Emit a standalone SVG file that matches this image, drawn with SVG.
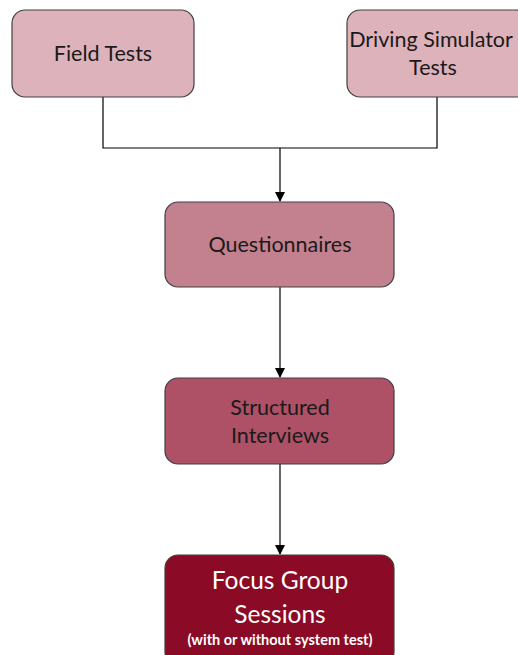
<svg xmlns="http://www.w3.org/2000/svg" width="518" height="655" viewBox="0 0 518 655">
<style>
.box{stroke:#404040;stroke-width:1.2}
.t{font-family:Lato,"Open Sans","Liberation Sans",sans-serif;font-size:21.5px;fill:#1a1a1a;text-anchor:middle}
.w{fill:#ffffff}
.c{fill:none;stroke:#000;stroke-width:1.2}
</style>
<defs>
<marker id="ah" markerWidth="10" markerHeight="10" refX="9" refY="5" orient="auto" markerUnits="userSpaceOnUse">
<path d="M0,0 L10,5 L0,10 z" fill="#000"/>
</marker>
</defs>
<rect width="518" height="655" fill="#ffffff"/>
<g id="connectors">
<path class="c" d="M103,97 V148 H437 V97"/>
<path class="c" d="M280,148 V201" marker-end="url(#ah)"/>
<path class="c" d="M280,287 V377" marker-end="url(#ah)"/>
<path class="c" d="M280,464 V554" marker-end="url(#ah)"/>
</g>
<g id="field-tests">
<rect class="box" x="12" y="10" width="182" height="87" rx="13" fill="#DDB2BB"/>
<text class="t" x="103" y="61">Field Tests</text>
</g>
<g id="driving-simulator-tests">
<rect class="box" x="347" y="10" width="182" height="87" rx="13" fill="#DDB2BB"/>
<text class="t" x="431" y="47">Driving Simulator</text>
<text class="t" x="433" y="75">Tests</text>
</g>
<g id="questionnaires">
<rect class="box" x="165" y="202" width="229" height="85" rx="13" fill="#C3808F"/>
<text class="t" x="280" y="252">Questionnaires</text>
</g>
<g id="structured-interviews">
<rect class="box" x="165" y="378" width="229" height="86" rx="13" fill="#AE5066"/>
<text class="t" x="280" y="415">Structured</text>
<text class="t" x="280" y="443">Interviews</text>
</g>
<g id="focus-group-sessions">
<rect class="box" x="165" y="555" width="229" height="110" rx="13" fill="#8B0A25"/>
<text class="t w" x="280" y="589" style="font-size:24.5px">Focus Group</text>
<text class="t w" x="280" y="623" style="font-size:24.5px">Sessions</text>
<text class="t w" x="280" y="645" style="font-size:14.5px;font-weight:bold">(with or without system test)</text>
</g>
</svg>
